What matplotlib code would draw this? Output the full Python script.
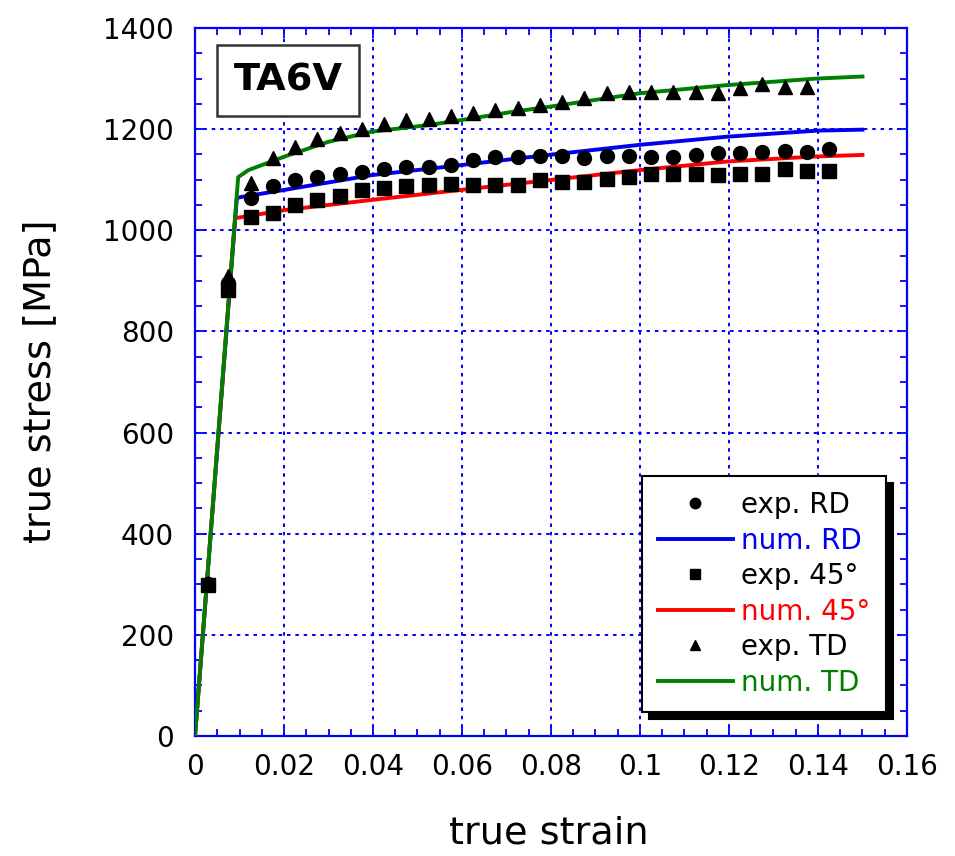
import matplotlib
matplotlib.use('Agg')
import matplotlib.pyplot as plt
from matplotlib.ticker import MultipleLocator
from matplotlib.patches import Rectangle


# ============================================================
# Data
# ============================================================

# experimental points, strain steps of ~0.005 after yield
exp_strain = [0.003, 0.0075, 0.0125, 0.0175, 0.0225, 0.0275, 0.0325, 0.0375,
              0.0425, 0.0475, 0.0525, 0.0575, 0.0625, 0.0675, 0.0725, 0.0775,
              0.0825, 0.0875, 0.0925, 0.0975, 0.1025, 0.1075, 0.1125, 0.1175,
              0.1225, 0.1275, 0.1325, 0.1375, 0.1425]

exp_rd = [300, 895, 1063, 1088, 1099, 1106, 1112, 1116, 1121, 1125, 1126, 1129,
          1139, 1144, 1144, 1146, 1146, 1142, 1146, 1146, 1144, 1144, 1149, 1152,
          1152, 1155, 1157, 1155, 1160]

exp_45 = [298, 882, 1027, 1035, 1050, 1060, 1068, 1080, 1083, 1088, 1090, 1092,
          1090, 1090, 1090, 1099, 1096, 1096, 1101, 1106, 1112, 1112, 1112, 1109,
          1112, 1112, 1121, 1118, 1118]

# TD stops one point earlier
exp_td = [302, 910, 1093, 1142, 1164, 1180, 1192, 1201, 1211, 1218, 1221, 1225,
          1231, 1238, 1241, 1248, 1254, 1261, 1271, 1274, 1273, 1273, 1273, 1271,
          1281, 1289, 1284, 1284]

# numerical curves
num_rd_strain = [0, 0.0094, 0.0105, 0.0202, 0.0397, 0.0599, 0.0794, 0.100, 0.1195, 0.1397, 0.15]
num_rd_stress = [0, 1064, 1066, 1080, 1109, 1129, 1149, 1169, 1185, 1197, 1199]

num_45_strain = [0, 0.009, 0.0112, 0.0202, 0.0397, 0.0599, 0.0794, 0.100, 0.1195, 0.1397, 0.15]
num_45_stress = [0, 1024, 1027, 1040, 1060, 1080, 1099, 1119, 1136, 1146, 1149]

num_td_strain = [0, 0.0097, 0.012, 0.0202, 0.030, 0.0397, 0.0524, 0.0599, 0.0712,
                 0.0794, 0.100, 0.1195, 0.1397, 0.15]
num_td_stress = [0, 1105, 1119, 1146, 1175, 1195, 1208, 1218, 1234, 1244, 1271,
                 1287, 1300, 1304]

BLUE = '#0000ff'
MS = 10
LW = 2.8


# ============================================================
# Plot
# ============================================================

plt.rcParams['font.family'] = ['DejaVu Sans']

fig = plt.figure(figsize=(9.55, 8.56), dpi=100)
ax = fig.add_axes([0.2042, 0.1402, 0.7455, 0.8271])

l_rd, = ax.plot(num_rd_strain, num_rd_stress, color='#0000ee', lw=LW, zorder=3)
l_45, = ax.plot(num_45_strain, num_45_stress, color='#ff0000', lw=LW, zorder=3)
l_td, = ax.plot(num_td_strain, num_td_stress, color='#008000', lw=LW, zorder=3.5)

m_rd, = ax.plot(exp_strain, exp_rd, 'o', color='black', ms=MS, ls='none', zorder=4)
m_45, = ax.plot(exp_strain, exp_45, 's', color='black', ms=MS, ls='none', zorder=4)
m_td, = ax.plot(exp_strain[:len(exp_td)], exp_td, '^', color='black', ms=MS, ls='none', zorder=4)

ax.set_xlim(0, 0.16)
ax.set_ylim(0, 1400)
ax.xaxis.set_major_locator(MultipleLocator(0.02))
ax.xaxis.set_minor_locator(MultipleLocator(0.005))
ax.yaxis.set_major_locator(MultipleLocator(200))
ax.yaxis.set_minor_locator(MultipleLocator(50))
ax.set_xticks([0, 0.02, 0.04, 0.06, 0.08, 0.1, 0.12, 0.14, 0.16])
ax.set_xticklabels(['0', '0.02', '0.04', '0.06', '0.08', '0.1', '0.12', '0.14', '0.16'])

ax.grid(True, which='major', color=BLUE, linestyle=(0, (1.8, 2.5)), lw=1.4)
ax.set_axisbelow(True)

for sp in ax.spines.values():
    sp.set_color(BLUE)
    sp.set_linewidth(1.6)

ax.tick_params(which='both', direction='in', top=True, right=True, color=BLUE,
               labelcolor='black', labelsize=20)
ax.tick_params(which='major', length=7, width=1.3)
ax.tick_params(which='minor', length=5, width=1.3)
ax.tick_params(axis='y', which='major', pad=15)
ax.tick_params(axis='x', which='major', pad=12)

ax.set_xlabel('true strain', fontsize=27.5)
ax.set_ylabel('true stress [MPa]', fontsize=27.5)
ax.xaxis.set_label_coords(0.497, -0.113)
ax.yaxis.set_label_coords(-0.192, 0.501)

# material label box
ax.add_patch(Rectangle((0.0305, 0.8757), 0.2003, 0.1003, transform=ax.transAxes,
                       fill=True, facecolor='white', edgecolor='#333333', lw=1.8, zorder=5))
ax.text(0.1306, 0.9258, 'TA6V', transform=ax.transAxes, ha='center', va='center',
        fontsize=27.5, fontweight='bold', zorder=6)

leg = ax.legend([m_rd, l_rd, m_45, l_45, m_td, l_td],
                ['exp. RD', 'num. RD', 'exp. 45°', 'num. 45°', 'exp. TD', 'num. TD'],
                loc='lower right', bbox_to_anchor=(0.970, 0.034), borderaxespad=0,
                fontsize=20, fancybox=False, framealpha=1, edgecolor='black',
                handlelength=2.7, labelspacing=0.27, handletextpad=0.3, borderpad=0.55,
                markerscale=0.75,
                shadow={'color': 'black', 'alpha': 1, 'ox': 5, 'oy': -5})
leg.get_frame().set_linewidth(1.5)
leg.set_zorder(10)
for t, c in zip(leg.get_texts(), ['black', '#0000ee', 'black', '#ff0000', 'black', '#008000']):
    t.set_color(c)

plt.savefig('out.png', dpi=100)
plt.close()
